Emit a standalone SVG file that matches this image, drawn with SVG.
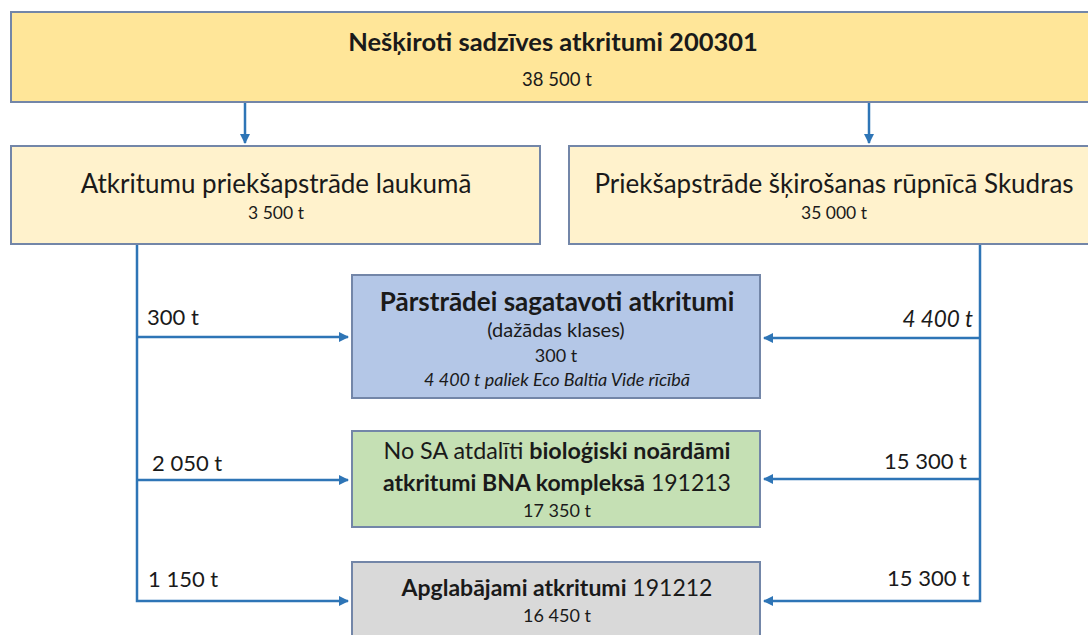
<svg xmlns="http://www.w3.org/2000/svg" width="1088" height="635" viewBox="0 0 1088 635">
<defs>
<style>
.box{stroke:#7386a8;stroke-width:2}
.t{font-family:Lato,"Liberation Sans",sans-serif;fill:#1a1a1a}
.c{text-anchor:middle}
.b{font-weight:bold}
.i{font-style:italic}
.lb{font-size:22px}
.ln{fill:none;stroke:#2e75b6;stroke-width:2.5}
</style>
<marker id="ah" viewBox="0 0 10 10" refX="9" refY="5" markerWidth="4" markerHeight="4" orient="auto" markerUnits="strokeWidth">
<path d="M0,0 L10,5 L0,10 z" fill="#2e75b6"/>
</marker>
</defs>
<rect width="1088" height="635" fill="#ffffff"/>
<g id="connectors">
<path class="ln" d="M245,102 V143" marker-end="url(#ah)"/>
<path class="ln" d="M869,102 V143" marker-end="url(#ah)"/>
<path class="ln" d="M137,245 V601 H348" marker-end="url(#ah)"/>
<path class="ln" d="M137,337 H348" marker-end="url(#ah)"/>
<path class="ln" d="M137,480 H348" marker-end="url(#ah)"/>
<path class="ln" d="M980,245 V601 H764" marker-end="url(#ah)"/>
<path class="ln" d="M980,338 H764" marker-end="url(#ah)"/>
<path class="ln" d="M980,479 H764" marker-end="url(#ah)"/>
<text class="t lb" x="147" y="325">300 t</text>
<text class="t i" x="973" y="327" font-size="22.5" text-anchor="end">4 400 t</text>
<text class="t lb" x="152" y="471">2 050 t</text>
<text class="t lb" x="967" y="469" text-anchor="end">15 300 t</text>
<text class="t lb" x="148" y="587">1 150 t</text>
<text class="t lb" x="970" y="586" text-anchor="end">15 300 t</text>
</g>
<g id="n_top">
<rect class="box" x="11" y="12" width="1090" height="90" fill="#ffe699"/>
<text class="t c b" x="553" y="51" font-size="25.5">Nešķiroti sadzīves atkritumi 200301</text>
<text class="t c" x="557" y="86" font-size="18.5">38 500 t</text>
</g>
<g id="n_laukums">
<rect class="box" x="11" y="146" width="529" height="98" fill="#fff2cc"/>
<text class="t c" x="276" y="193" font-size="26">Atkritumu priekšapstrāde laukumā</text>
<text class="t c" x="276" y="219" font-size="17.5">3 500 t</text>
</g>
<g id="n_skudras">
<rect class="box" x="569" y="146" width="530" height="98" fill="#fff2cc"/>
<text class="t c" x="834" y="193" font-size="26">Priekšapstrāde šķirošanas rūpnīcā Skudras</text>
<text class="t c" x="834" y="219" font-size="17.5">35 000 t</text>
</g>
<g id="n_parstradei">
<rect class="box" x="352" y="275" width="408" height="123" fill="#b4c7e7"/>
<text class="t c b" x="557" y="311" font-size="26">Pārstrādei sagatavoti atkritumi</text>
<text class="t c" x="556" y="337" font-size="20">(dažādas klases)</text>
<text class="t c" x="556" y="362" font-size="18">300 t</text>
<text class="t c i" x="557" y="386" font-size="18">4 400 t paliek Eco Baltia Vide rīcībā</text>
</g>
<g id="n_bna">
<rect class="box" x="352" y="431" width="408" height="96" fill="#c5e0b4"/>
<text class="t c" x="557" y="459" font-size="23.3">No SA atdalīti <tspan class="b">bioloģiski noārdāmi</tspan></text>
<text class="t c" x="557" y="491" font-size="23">
<tspan class="b">atkritumi BNA kompleksā</tspan> 191213</text>
<text class="t c" x="557" y="517" font-size="18">17 350 t</text>
</g>
<g id="n_apglabajami">
<rect class="box" x="352" y="562" width="408" height="90" fill="#d9d9d9"/>
<text class="t c" x="557" y="596" font-size="23"><tspan class="b">Apglabājami atkritumi</tspan> 191212</text>
<text class="t c" x="557" y="622" font-size="18">16 450 t</text>
</g>
</svg>
